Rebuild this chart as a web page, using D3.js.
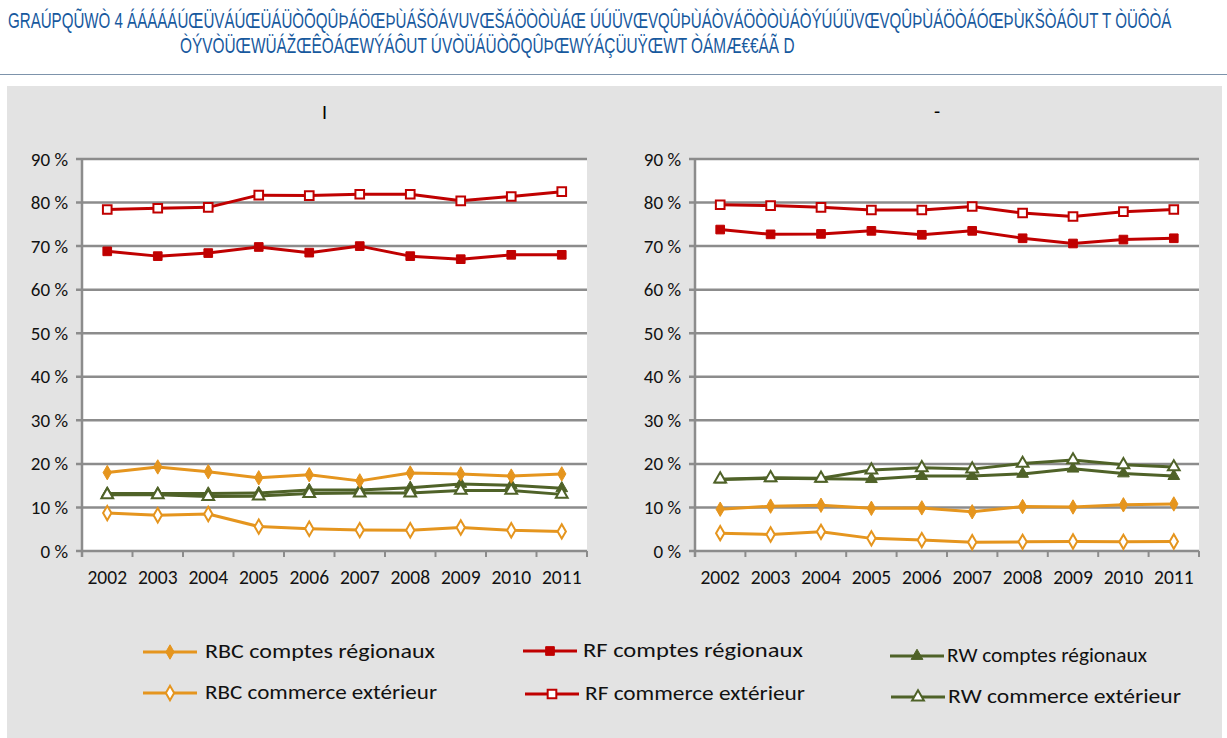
<!DOCTYPE html>
<html>
<head>
<meta charset="utf-8">
<script src="https://cdn.jsdelivr.net/npm/d3@7"></script>
<style>
  body { margin: 0; background: #fff; }
  svg { display: block; }
  .lbl { font-family: Carlito, Lato, "Liberation Sans", sans-serif; }
</style>
</head>
<body>
<div id="chart"></div>
<script>
const W = 1227, H = 738;

// categories
const years = ["2002", "2003", "2004", "2005", "2006", "2007", "2008", "2009", "2010", "2011"];
const yTicks = [0, 0.1, 0.2, 0.3, 0.4, 0.5, 0.6, 0.7, 0.8, 0.9];

// left panel
const leftRbcCr = [18.0, 19.3, 18.2, 16.8, 17.5, 16.1, 17.9, 17.7, 17.2, 17.7];
const leftRbcCe = [8.7, 8.2, 8.5, 5.6, 5.1, 4.8, 4.75, 5.4, 4.75, 4.5];
const leftRfCr = [68.8, 67.7, 68.4, 69.8, 68.5, 70.0, 67.7, 67.0, 68.0, 68.0];
const leftRfCe = [78.4, 78.7, 78.9, 81.7, 81.6, 81.9, 81.9, 80.4, 81.4, 82.5];
const leftRwCr = [13.2, 13.2, 13.2, 13.3, 14.0, 14.0, 14.5, 15.4, 15.1, 14.4];
const leftRwCe = [12.9, 12.9, 12.5, 12.6, 13.2, 13.3, 13.3, 13.9, 13.9, 13.0];

// right panel
const rightRbcCr = [9.6, 10.3, 10.5, 9.8, 9.9, 9.0, 10.2, 10.1, 10.6, 10.8];
const rightRbcCe = [4.1, 3.8, 4.4, 2.9, 2.5, 2.0, 2.1, 2.2, 2.1, 2.2];
const rightRfCr = [73.8, 72.7, 72.8, 73.5, 72.6, 73.5, 71.8, 70.6, 71.5, 71.8];
const rightRfCe = [79.5, 79.3, 78.9, 78.3, 78.3, 79.1, 77.6, 76.8, 77.9, 78.4];
const rightRwCr = [16.4, 16.7, 16.6, 16.5, 17.2, 17.2, 17.7, 18.9, 17.8, 17.2];
const rightRwCe = [16.5, 16.8, 16.7, 18.6, 19.1, 18.8, 20.1, 20.9, 19.8, 19.3];

// series meta (same order in both panels)
const seriesNames = ["RBC comptes régionaux", "RF comptes régionaux", "RW comptes régionaux",
                     "RBC commerce extérieur", "RF commerce extérieur", "RW commerce extérieur"];
const seriesColor = ["#e5951e", "#c00000", "#4f6228", "#e5951e", "#c00000", "#4f6228"];
const seriesShape = ["diamond", "square", "triangle", "diamond", "square", "triangle"];
const seriesOpen = [false, false, false, true, true, true];

// page title, garbled in the source: [text, x, baseline, width]
const titleRows = [
  ["GRAÚPQŨWÒ 4 ÁÁÁÁÁÚŒÜVÁÚŒÜÁÜÒÕQÛÞÁÖŒÞÙÁŠÒÁVUVŒŠÁÖÒÒÙÁŒ ÚÚÜVŒVQÛÞÙÁÒVÁÖÒÒÙÁÒÝÚÚÜVŒVQÛÞÙÁÖÒÁÓŒÞÙKŠÒÁÔUT T ÒÜÔÒÁ", 8, 28, 1164],
  ["ÒÝVÒÜŒWÜÁŽŒÊÒÁŒWÝÁÔUT ÚVÒÜÁÜÒÕQÛÞŒWÝÁÇÜUŸŒWT ÒÁMÆ€€ÁÃ D", 180, 53, 615]
];

const svg = d3.select("#chart").append("svg")
  .attr("width", W)
  .attr("height", H);

svg.append("rect").attr("width", W).attr("height", H).attr("fill", "#fff");

// squeeze each title row horizontally to the width it has in the source
titleRows.forEach(r => {
  const t = svg.append("text")
    .attr("x", 0).attr("y", 0)
    .style("font-family", "'Liberation Sans', Arial, sans-serif")
    .style("font-size", "22px")
    .attr("fill", "#17599e")
    .text(r[0]);
  const natural = t.node().getComputedTextLength();
  t.attr("transform", `translate(${r[1]},${r[2]}) scale(${r[3] / natural},1)`);
});

svg.append("line")
  .attr("x1", 0).attr("x2", W).attr("y1", 74.5).attr("y2", 74.5)
  .attr("stroke", "#7d93ab").attr("stroke-width", 1);

// grey chart area
svg.append("rect")
  .attr("x", 7).attr("y", 86).attr("width", 1215).attr("height", H - 86)
  .attr("fill", "#e3e3e3");

const symbolType = { diamond: d3.symbolDiamond, square: d3.symbolSquare, triangle: d3.symbolTriangle };
const symbolSize = { diamond: 60, square: 75, triangle: 60 };

function drawPanel(x0, x1, title, titleY, data) {
  const g = svg.append("g");
  const x = d3.scaleBand().domain(years).range([x0, x1]);
  const y = d3.scaleLinear().domain([0, 0.9]).range([551, 159]);
  const cx = d => x(d) + x.bandwidth() / 2;

  g.append("rect")
    .attr("x", x0).attr("y", y(0.9))
    .attr("width", x1 - x0).attr("height", y(0) - y(0.9))
    .attr("fill", "#fff");

  // gridlines
  g.selectAll(".grid").data(yTicks).enter().append("line")
    .attr("x1", x0 - 6).attr("x2", x1)
    .attr("y1", d => y(d)).attr("y2", d => y(d))
    .attr("stroke", "#8c8c8c").attr("stroke-width", 2.5);

  // vertical axis line
  g.append("line")
    .attr("x1", x0).attr("x2", x0).attr("y1", y(0.9)).attr("y2", y(0) + 6)
    .attr("stroke", "#8c8c8c").attr("stroke-width", 2.5);

  // category boundary ticks
  const edges = years.map(d => x(d)).concat([x1]);
  g.selectAll(".xtick").data(edges.slice(1)).enter().append("line")
    .attr("x1", d => d).attr("x2", d => d)
    .attr("y1", y(0)).attr("y2", y(0) + 6)
    .attr("stroke", "#8c8c8c").attr("stroke-width", 2);

  const yAxis = g.append("g")
    .attr("transform", `translate(${x0},0)`)
    .call(d3.axisLeft(y).tickValues(yTicks).tickSize(0).tickPadding(14)
      .tickFormat(d => Math.round(d * 100) + " %"));
  yAxis.attr("font-size", 19).attr("font-family", null);
  yAxis.select(".domain").remove();
  yAxis.selectAll("text").attr("class", "lbl").attr("fill", "#111");

  const xAxis = g.append("g")
    .attr("transform", `translate(0,${y(0)})`)
    .call(d3.axisBottom(x).tickSize(0).tickPadding(19));
  xAxis.attr("font-size", 19.5).attr("font-family", null);
  xAxis.select(".domain").remove();
  xAxis.selectAll("text").attr("class", "lbl").attr("fill", "#111");

  g.append("text")
    .attr("class", "lbl")
    .attr("x", (x0 + x1) / 2 - 10).attr("y", titleY)
    .attr("text-anchor", "middle")
    .attr("font-size", 20)
    .text(title);

  const line = d3.line()
    .x((d, i) => cx(years[i]))
    .y(d => y(d / 100));

  // draw lower-priority series first so red sits above
  const order = [2, 5, 0, 3, 1, 4];
  order.forEach(k => {
    const vals = data[k];
    g.append("path")
      .datum(vals)
      .attr("d", line)
      .attr("fill", "none")
      .attr("stroke", seriesColor[k])
      .attr("stroke-width", 3)
      .attr("stroke-linejoin", "round");
    g.selectAll(null).data(vals).enter().append("path")
      .attr("transform", (d, i) => `translate(${cx(years[i])},${y(d / 100)})`)
      .attr("d", d3.symbol().type(symbolType[seriesShape[k]]).size(symbolSize[seriesShape[k]]))
      .attr("fill", seriesOpen[k] ? "#fff" : seriesColor[k])
      .attr("stroke", seriesColor[k])
      .attr("stroke-width", seriesOpen[k] ? 2 : 1);
  });
}

drawPanel(82, 587, "I", 119,
  [leftRbcCr, leftRfCr, leftRwCr, leftRbcCe, leftRfCe, leftRwCe]);
drawPanel(695, 1199, "-", 118,
  [rightRbcCr, rightRfCr, rightRwCr, rightRbcCe, rightRfCe, rightRwCe]);

// legend
const legendPos = [
  { lx: 143, tx: 205, y: 652, w: 230 },
  { lx: 523, tx: 583, y: 651, w: 220 },
  { lx: 890, tx: 947, y: 656, w: 200 },
  { lx: 143, tx: 205, y: 693, w: 232 },
  { lx: 525, tx: 585, y: 694, w: 220 },
  { lx: 891, tx: 948, y: 697, w: 233 }
];
const leg = svg.append("g");
seriesNames.forEach((name, k) => {
  const p = legendPos[k];
  const lineLen = 54;
  leg.append("line")
    .attr("x1", p.lx).attr("x2", p.lx + lineLen)
    .attr("y1", p.y).attr("y2", p.y)
    .attr("stroke", seriesColor[k]).attr("stroke-width", 3);
  leg.append("path")
    .attr("transform", `translate(${p.lx + lineLen / 2},${p.y})`)
    .attr("d", d3.symbol().type(symbolType[seriesShape[k]]).size(symbolSize[seriesShape[k]]))
    .attr("fill", seriesOpen[k] ? "#fff" : seriesColor[k])
    .attr("stroke", seriesColor[k])
    .attr("stroke-width", seriesOpen[k] ? 2 : 1);
  leg.append("text")
    .attr("class", "lbl")
    .attr("x", p.tx).attr("y", p.y + 6)
    .attr("textLength", p.w).attr("lengthAdjust", "spacingAndGlyphs")
    .attr("font-size", 20).attr("fill", "#111")
    .text(name);
});
</script>
</body>
</html>
